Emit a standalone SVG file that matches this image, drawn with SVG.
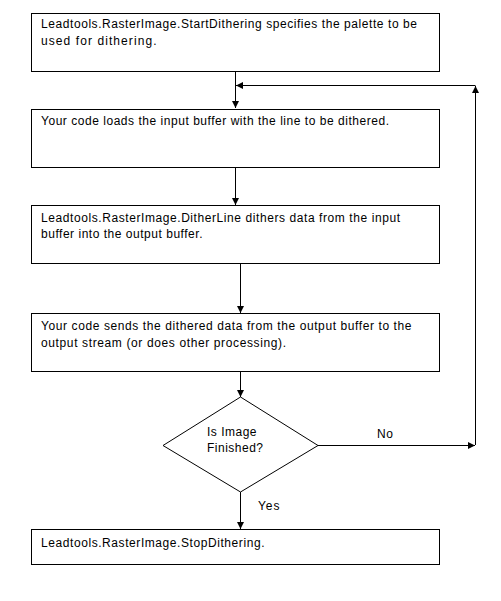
<svg xmlns="http://www.w3.org/2000/svg" width="501" height="601" viewBox="0 0 501 601">
<style>
.box{fill:#fff;stroke:#000;stroke-width:1}
.t{font-family:"Liberation Sans",Arial,sans-serif;font-size:12px;fill:#000}
.ln{fill:none;stroke:#000;stroke-width:1}
</style>
<defs>
<marker id="ah" viewBox="0 0 10 10" refX="10" refY="5" markerWidth="7" markerHeight="7" markerUnits="userSpaceOnUse" orient="auto">
<path d="M0,0 L10,5 L0,10 Z" fill="#000"/>
</marker>
</defs>
<rect width="501" height="601" fill="#fff"/>
<g id="connectors">
<path class="ln" d="M235.5,72 V108" marker-end="url(#ah)"/>
<path class="ln" d="M475.5,445 V86" marker-end="url(#ah)"/>
<path class="ln" d="M475.5,85.5 H236" marker-end="url(#ah)"/>
<path class="ln" d="M235.5,168 V205" marker-end="url(#ah)"/>
<path class="ln" d="M240.5,264 V313" marker-end="url(#ah)"/>
<path class="ln" d="M240.5,372 V397" marker-end="url(#ah)"/>
<path class="ln" d="M318,445.5 H475" marker-end="url(#ah)"/>
<path class="ln" d="M240.5,492 V529" marker-end="url(#ah)"/>
<text class="t" x="377" y="438" textLength="16" lengthAdjust="spacing">No</text>
<text class="t" x="258" y="510" textLength="21.5" lengthAdjust="spacing">Yes</text>
</g>
<g id="start">
<rect class="box" x="31.5" y="13.5" width="408" height="58"/>
<text class="t" x="41" y="28" textLength="376" lengthAdjust="spacing">Leadtools.RasterImage.StartDithering specifies the palette to be</text>
<text class="t" x="41" y="45" textLength="115.5" lengthAdjust="spacing">used for dithering.</text>
</g>
<g id="load">
<rect class="box" x="31.5" y="109.5" width="408" height="58"/>
<text class="t" x="41" y="125" textLength="348" lengthAdjust="spacing">Your code loads the input buffer with the line to be dithered.</text>
</g>
<g id="dither">
<rect class="box" x="31.5" y="205.5" width="408" height="58"/>
<text class="t" x="41" y="221.5" textLength="359" lengthAdjust="spacing">Leadtools.RasterImage.DitherLine dithers data from the input</text>
<text class="t" x="41" y="238" textLength="161.5" lengthAdjust="spacing">buffer into the output buffer.</text>
</g>
<g id="send">
<rect class="box" x="31.5" y="313.5" width="408" height="58"/>
<text class="t" x="41" y="329.5" textLength="370.5" lengthAdjust="spacing">Your code sends the dithered data from the output buffer to the</text>
<text class="t" x="41" y="346.5" textLength="245" lengthAdjust="spacing">output stream (or does other processing).</text>
</g>
<g id="decision">
<polygon class="box" points="240.5,397 318,445.5 240.5,492 163,445.5"/>
<text class="t" x="207" y="436" textLength="49.5" lengthAdjust="spacing">Is Image</text>
<text class="t" x="207" y="451.5" textLength="56" lengthAdjust="spacing">Finished?</text>
</g>
<g id="stop">
<rect class="box" x="31.5" y="529.5" width="408" height="35"/>
<text class="t" x="41" y="547" textLength="223.5" lengthAdjust="spacing">Leadtools.RasterImage.StopDithering.</text>
</g>
</svg>
